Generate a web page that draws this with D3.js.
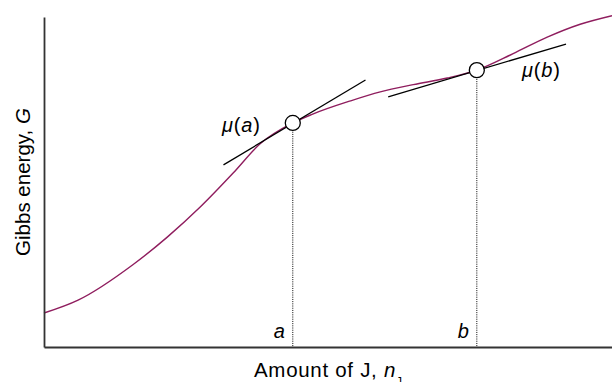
<!DOCTYPE html>
<html>
<head>
<meta charset="utf-8">
<script src="https://cdn.jsdelivr.net/npm/d3@7"></script>
<style>
  html, body { margin: 0; padding: 0; background: #fff; }
  svg { display: block; }
  text { font-family: "Liberation Sans", Arial, Helvetica, sans-serif; fill: #000; }
</style>
</head>
<body>
<svg id="chart" width="612" height="382"></svg>
<script>
// Gibbs energy curve G vs amount of J (arbitrary units, 0-100)
const curveX = [0, 6, 15.7, 21.7, 27.5, 33.3, 38, 43.8, 47.2, 54, 59.2, 65, 71, 76.2, 82.6, 88.6, 94.4, 100];
const curveG = [10.3, 14.2, 25.0, 33.3, 42.4, 52.7, 61.5, 67.9, 70.5, 74.6, 77.3, 79.5, 81.5, 83.9, 88.9, 93.9, 97.8, 100.4];

// marked points a and b
const pointNames = ["a", "b"];
const pointX = [43.8, 76.2];
const pointG = [67.9, 83.9];

// tangent lines (start/end)
const tangentX0 = [31.6, 60.6];
const tangentX1 = [56.6, 91.9];
const tangentG0 = [55.2, 75.8];
const tangentG1 = [80.9, 91.8];

const xLabel = "Amount of J, ";
const yLabel = "Gibbs energy, ";

const svg = d3.select("#chart");
const mLeft = 44, mRight = 612, mTop = 17, mBottom = 347;
const x = d3.scaleLinear().domain([0, 100]).range([mLeft, mRight]);
const y = d3.scaleLinear().domain([0, 100]).range([mBottom, mTop]);

const purple = "#8f1d5e";

// curve
const pts = curveX.map((v, i) => [v, curveG[i]]);
svg.append("path")
  .datum(pts)
  .attr("fill", "none")
  .attr("stroke", purple)
  .attr("stroke-width", 1.4)
  .attr("d", d3.line().x(d => x(d[0])).y(d => y(d[1])).curve(d3.curveMonotoneX));

// dotted verticals
svg.selectAll(".drop").data(pointX).enter().append("line")
  .attr("x1", d => x(d)).attr("x2", d => x(d))
  .attr("y1", (d, i) => y(pointG[i]))
  .attr("y2", mBottom)
  .attr("stroke", "#000").attr("stroke-width", 1)
  .attr("stroke-dasharray", "1,1.2");

// tangents
svg.selectAll(".tan").data(tangentX0).enter().append("line")
  .attr("x1", d => x(d)).attr("y1", (d, i) => y(tangentG0[i]))
  .attr("x2", (d, i) => x(tangentX1[i])).attr("y2", (d, i) => y(tangentG1[i]))
  .attr("stroke", "#000").attr("stroke-width", 1.3);

// axes (no ticks)
const xAxis = d3.axisBottom(x).tickValues([]).tickSizeOuter(0);
const yAxis = d3.axisLeft(y).tickValues([]).tickSizeOuter(0);
svg.append("g").attr("transform", `translate(0,${mBottom})`).call(xAxis)
  .select(".domain").attr("stroke", "#333").attr("stroke-width", 1.8);
svg.append("g").attr("transform", `translate(${mLeft},0)`).call(yAxis)
  .select(".domain").attr("stroke", "#333").attr("stroke-width", 1.8);

// circles
svg.selectAll(".pt").data(pointX).enter().append("circle")
  .attr("cx", d => x(d)).attr("cy", (d, i) => y(pointG[i]))
  .attr("r", 7.5)
  .attr("fill", "#fff").attr("stroke", "#000").attr("stroke-width", 1.3);

// point labels near axis
svg.selectAll(".plab").data(pointNames).enter().append("text")
  .attr("x", (d, i) => x(pointX[i]) - 8)
  .attr("y", 338)
  .attr("text-anchor", "end")
  .attr("font-size", 20)
  .attr("font-style", "italic")
  .text(d => d);

// mu labels
const muPos = [[222, 132], [522, 77]];
pointNames.forEach((n, i) => {
  const t = svg.append("text").attr("x", muPos[i][0]).attr("y", muPos[i][1])
    .attr("font-size", 20).attr("letter-spacing", 0.8);
  t.append("tspan").attr("font-style", "italic").text("μ");
  t.append("tspan").text("(");
  t.append("tspan").attr("font-style", "italic").text(n);
  t.append("tspan").text(")");
});

// x label
const xl = svg.append("text").attr("x", 254).attr("y", 377).attr("font-size", 20.5).attr("letter-spacing", 0.7);
xl.append("tspan").text(xLabel);
xl.append("tspan").attr("font-style", "italic").text("n");
xl.append("tspan").attr("font-size", 12).attr("dy", 9).text("J");

// y label
const yl = svg.append("text")
  .attr("transform", "translate(30,182) rotate(-90)")
  .attr("text-anchor", "middle")
  .attr("font-size", 20.5);
yl.append("tspan").text(yLabel);
yl.append("tspan").attr("font-style", "italic").text("G");
</script>
</body>
</html>
